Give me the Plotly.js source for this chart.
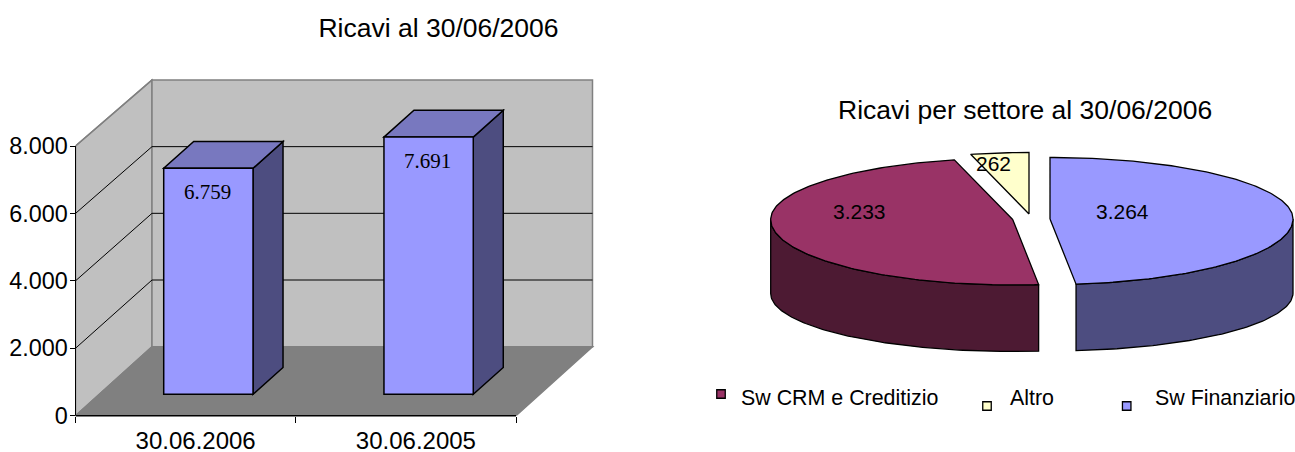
<!DOCTYPE html>
<html><head><meta charset="utf-8">
<script src="https://cdn.plot.ly/plotly-3.0.1.min.js"></script>
<style>html,body{margin:0;padding:0;background:#fff}#c{width:1295px;height:452px}</style>
</head><body><div id="c"></div>
<script>
// ---- data ----
const barCategories = ['30.06.2006', '30.06.2005'];
const barValues = [6759, 7691];
const yTickValues = [0, 2000, 4000, 6000, 8000];
const yTickLabels = ['0', '2.000', '4.000', '6.000', '8.000'];
const sliceNames = ['Sw Finanziario', 'Sw CRM e Creditizio', 'Altro'];
const sliceValues = [3264, 3233, 262];
const sliceLabels = ['3.264', '3.233', '262'];
const titleLeft = 'Ricavi al 30/06/2006';
const titleRight = 'Ricavi per settore al 30/06/2006';

// ---- styling / frame ----
const W = 1295, H = 452;
const FONT = '"Liberation Sans", Arial, sans-serif';
const SERIF = '"Liberation Serif", "Times New Roman", serif';
const C = {wall:'#C0C0C0', edge:'#808080', floor:'#808080', bar:'#9999FF', barSide:'#4D4D80', barTop:'#7878BF',
  crm:'#993366', crmDark:'#4D1A33', alt:'#FFFFCC', fin:'#9999FF', finDark:'#4D4D80'};
const catPx = 220.25, left = 75.5, bottom = 415.7;
const pxPerUnit = 269.7 / 8000;
const xRange = [-0.5, 1.9], yMax = 10000;
const domX = [left / W, (left + 2.4 * catPx) / W];
const top_ = bottom - yMax * pxPerUnit;
const domY = [(H - bottom) / H, (H - top_) / H];
// wall depth in axis units
const depthX = 76.5 / catPx;
const backY = v => 2047 + 0.989 * v;
// plane of the bars
const barPx = 0.03344, barFloor = 21.4;
const y2Range = [-barFloor / barPx, (bottom - barFloor - top_) / barPx];
const barOffset = -0.0995, barWidth = 0.4055;
const barDX = 30 / catPx, barDY = 26.8 / barPx;

const poly = (pts, fill, line, width, yref, layer) => ({type:'path', xref:'x', yref:yref || 'y', layer:layer || 'below',
  path:'M ' + pts.map(p => p[0] + ' ' + p[1]).join(' L ') + ' Z', fillcolor:fill,
  line:{color:line, width:width}});
const seg = (x0, y0, x1, y1, color, width) => ({type:'line', xref:'x', yref:'y', layer:'below', x0, y0, x1, y1, line:{color, width}});

const xl = xRange[0], xr = 1.5, xb = xl + depthX, xbr = xr + depthX;
const shapes = [
  poly([[xl,0],[xb,backY(0)],[xb,backY(8000)],[xl,8000]], C.wall, C.edge, 1.5),
  poly([[xb,backY(0)],[xbr,backY(0)],[xbr,backY(8000)],[xb,backY(8000)]], C.wall, C.edge, 1.5),
  poly([[xl,0],[xb,backY(0)],[xbr,backY(0)],[xr,0]], C.floor, C.edge, 1.5),
];
yTickValues.slice(1, -1).forEach(v => {
  shapes.push(seg(xl, v, xb, backY(v), '#000', 1));
  shapes.push(seg(xb, backY(v), xbr, backY(v), '#000', 1));
});
barValues.forEach((v, i) => {
  const a = i + barOffset, b = a + barWidth;
  shapes.push(poly([[b,0],[b+barDX,barDY],[b+barDX,v+barDY],[b,v]], C.barSide, '#000', 1.5, 'y2'));
  shapes.push(poly([[a,v],[b,v],[b+barDX,v+barDY],[a+barDX,v+barDY]], C.barTop, '#000', 1.5, 'y2'));
});
// axis lines along the front plane
shapes.push({type:'line', xref:'paper', yref:'y', layer:'above', x0:domX[0], x1:domX[0], y0:0, y1:8000, line:{color:'#000', width:1}});
shapes.push({type:'line', xref:'x', yref:'paper', layer:'above', x0:xl, x1:xr, y0:domY[0], y1:domY[0], line:{color:'#000', width:1.5}});
shapes.push({type:'line', xref:'x', yref:'y', layer:'above', x0:xl, x1:xb, y0:8000, y1:backY(8000), line:{color:C.edge, width:1.5}});

const traces = [{
  type:'bar', x:barCategories, y:barValues, xaxis:'x', yaxis:'y2', offset:barOffset, width:barWidth,
  marker:{color:C.bar, line:{color:'#000', width:1.5}}, hoverinfo:'x+y', showlegend:false
}];

// ---- pie ----
const total = sliceValues.reduce((a, b) => a + b, 0);
const geom = {
  'Sw Finanziario':      {cx:1050, cy:219, a:243, fill:C.fin, dark:C.finDark, lx:1122, ly:211, mx:1126.7, my:406, tx:1155, ty:398},
  'Sw CRM e Creditizio': {cx:1012.7, cy:219.5, a:242, fill:C.crm, dark:C.crmDark, lx:859, ly:211, mx:721, my:394, tx:741, ty:398},
  'Altro':               {cx:1029, cy:214, a:242, fill:C.alt, dark:C.alt, lx:993, ly:163.5, mx:987, my:406, tx:1010, ty:398}
};
const bBack = 61.5, bFront = 65.5, bBottom = 58, bottomCY = 293;
const topPt = (g, d) => {
  const t = d * Math.PI / 180, c = Math.cos(t);
  return [g.cx + g.a * Math.sin(t), g.cy - (c > 0 ? bBack : bFront) * c];
};
const lowPt = (g, d) => {
  const t = d * Math.PI / 180;
  return [g.cx + g.a * Math.sin(t), bottomCY - bBottom * Math.cos(t) + (g.cy - 219)];
};
const angles = (a, b) => { const r = []; for (let d = a; d < b; d += 1) r.push(d); r.push(b); return r; };
const rimTraces = [], topTraces = [], annos = [], legendTraces = [];
let start = 0;
sliceNames.forEach((name, i) => {
  const g = geom[name], end = start + sliceValues[i] / total * 360;
  // visible rim: the part of the arc facing the viewer
  const r0 = Math.max(start, 90), r1 = Math.min(end, 270);
  if (r1 > r0) {
    const up = angles(r0, r1).map(d => topPt(g, d));
    const lo = angles(r0, r1).reverse().map(d => lowPt(g, d));
    const pts = up.concat(lo); pts.push(up[0]);
    rimTraces.push({type:'scatter', mode:'lines', x:pts.map(p => p[0]), y:pts.map(p => p[1]), xaxis:'x3', yaxis:'y3',
      fill:'toself', fillcolor:g.dark, line:{color:'#000', width:1.3}, hoverinfo:'skip', showlegend:false, cliponaxis:false});
  }
  const arc = angles(start, end).map(d => topPt(g, d));
  const pts = [[g.cx, g.cy]].concat(arc); pts.push([g.cx, g.cy]);
  topTraces.push({type:'scatter', mode:'lines', name:name, x:pts.map(p => p[0]), y:pts.map(p => p[1]), xaxis:'x3', yaxis:'y3',
    fill:'toself', fillcolor:g.fill, line:{color:'#000', width:1.3}, hoverinfo:'name', showlegend:false, cliponaxis:false});
  annos.push({xref:'x3', yref:'y3', x:g.lx, y:g.ly, text:sliceLabels[i], showarrow:false, font:{family:FONT, size:21, color:'#000'}, xanchor:'center', yanchor:'middle'});
  legendTraces.push({type:'scatter', mode:'markers', x:[g.mx], y:[g.my], xaxis:'x3', yaxis:'y3',
    marker:{symbol:'square', size:8.5, color:g.fill, line:{color:'#000', width:1.3}}, hoverinfo:'skip', showlegend:false, cliponaxis:false});
  annos.push({xref:'x3', yref:'y3', x:g.tx, y:g.ty, text:name, showarrow:false, font:{family:FONT, size:21.4, color:'#000'}, xanchor:'left', yanchor:'middle', xshift:-2});
  start = end;
});
barValues.forEach((v, i) => {
  annos.push({xref:'x', yref:'y2', x:i + barOffset + barWidth / 2, y:v, yshift:-23.5, xshift:-1, text:String(v).replace(/(\d)(\d{3})$/, '$1.$2'),
    showarrow:false, font:{family:SERIF, size:21, color:'#000'}, xanchor:'center', yanchor:'middle'});
});
annos.push({xref:'paper', yref:'paper', x:1025 / W, y:1 - 110 / H, text:titleRight, showarrow:false, font:{family:FONT, size:26.5, color:'#000'}, xanchor:'center', yanchor:'middle'});

const layout = {
  width:W, height:H, margin:{l:0, r:0, t:0, b:0}, paper_bgcolor:'#fff', plot_bgcolor:'rgba(0,0,0,0)', showlegend:false,
  title:{text:titleLeft, x:438.5 / W, y:1 - 27.5 / H, xref:'paper', yref:'paper', xanchor:'center', yanchor:'middle', font:{family:FONT, size:26.5, color:'#000'}},
  font:{family:FONT, color:'#000'},
  xaxis:{type:'category', categoryorder:'array', categoryarray:barCategories, domain:domX, range:xRange, anchor:'y',
    tickson:'boundaries', ticks:'outside', ticklen:6, tickwidth:1, tickcolor:'#000', showgrid:false, zeroline:false, showline:false,
    ticklabelshift:10, ticklabelstandoff:8, tickfont:{family:FONT, size:24, color:'#000'}, automargin:false, fixedrange:true},
  yaxis:{domain:domY, range:[0, yMax], anchor:'x', tickmode:'array', tickvals:yTickValues, ticktext:yTickLabels,
    ticks:'outside', ticklen:5, tickwidth:1, tickcolor:'#000', showgrid:false, zeroline:false, showline:false,
    ticklabelstandoff:-3, tickfont:{family:FONT, size:23.4, color:'#000'}, automargin:false, fixedrange:true},
  yaxis2:{domain:domY, range:y2Range, overlaying:'y', anchor:'x', visible:false, fixedrange:true},
  xaxis3:{domain:[700 / W, 1], range:[700, W], anchor:'y3', visible:false, fixedrange:true},
  yaxis3:{domain:[0, 1], range:[H, 0], anchor:'x3', visible:false, fixedrange:true},
  shapes, annotations:annos
};
Plotly.newPlot('c', traces.concat(rimTraces, topTraces, legendTraces), layout, {displayModeBar:false, staticPlot:true});
</script></body></html>
